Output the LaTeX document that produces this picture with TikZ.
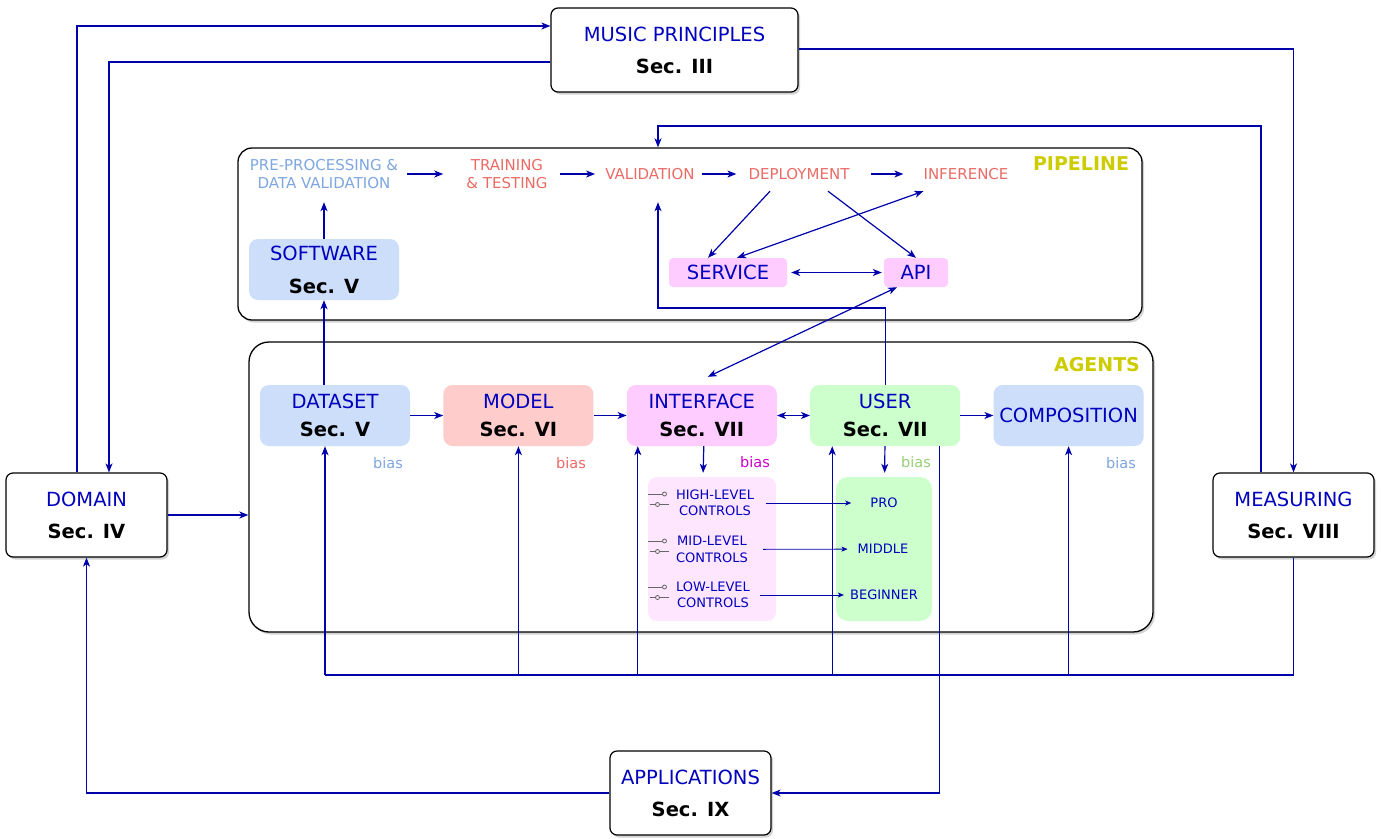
\documentclass[tikz,border=0pt]{standalone}
\usepackage{fontspec}
\setmainfont{DejaVu Sans}
\usepackage{xcolor}
\usetikzlibrary{positioning,arrows.meta,shadows,calc}

\definecolor{lnblue}{RGB}{0,0,170}
\definecolor{txblue}{RGB}{0,0,190}
\definecolor{fblue}{RGB}{204,222,250}
\definecolor{fred}{RGB}{255,204,204}
\definecolor{fpink}{RGB}{255,204,255}
\definecolor{fgreen}{RGB}{204,255,204}
\definecolor{fpinkl}{RGB}{255,230,255}
\definecolor{tblue}{RGB}{126,166,224}
\definecolor{tred}{RGB}{234,107,102}
\definecolor{tmag}{RGB}{204,0,204}
\definecolor{tgreen}{RGB}{151,208,119}
\definecolor{tyell}{RGB}{204,204,0}

\begin{document}
\begin{tikzpicture}[x=1pt, y=-1pt, node distance=33pt,
	sec/.style={draw=black, line width=1.2pt, rounded corners=7pt, fill=white, minimum width=161pt, minimum height=84pt, align=center, font=\fontsize{19.5}{32}\selectfont, drop shadow={shadow xshift=2pt, shadow yshift=-2.5pt, fill=black!35}},
	frame/.style={draw=black, line width=1.3pt, fill=white, drop shadow={shadow xshift=2pt, shadow yshift=-2.5pt, fill=black!35}},
	agent/.style={rounded corners=9pt, minimum width=150pt, minimum height=61pt, align=center, text=txblue, font=\fontsize{19.5}{28}\selectfont},
	stage/.style={inner sep=0pt, align=center, minimum height=34pt, font=\fontsize{15}{18}\selectfont},
	lvl/.style={inner sep=0pt, align=center, text=txblue, font=\fontsize{13}{16.5}\selectfont},
	bias/.style={font=\fontsize{14.5}{16}\selectfont},
	title/.style={font=\bfseries\fontsize{19}{22}\selectfont, text=tyell},
	ln/.style={draw=lnblue, line width=1.2pt},
	arr/.style={ln, -{Stealth[length=9pt, width=7pt, inset=2.5pt]}},
	darr/.style={ln, {Stealth[length=9pt, width=7pt, inset=2.5pt]}-{Stealth[length=9pt, width=7pt, inset=2.5pt]}},
	sarr/.style={draw=lnblue, line width=0.8pt, -{Stealth[length=6pt, width=5pt, inset=1.5pt]}},
	sw/.style={draw=black!60, line width=0.8pt}]
	\useasboundingbox (0,0) rectangle (1381,838);
	
	% sections around
	\node[sec, minimum width=247pt] (music) at (674.5,50) {{\color{txblue}MUSIC PRINCIPLES}\\\textbf{Sec. III}};
	\node[sec] (domain) at (86.5,515) {{\color{txblue}DOMAIN}\\\textbf{Sec. IV}};
	\node[sec] (meas) at (1293.5,515) {{\color{txblue}MEASURING}\\\textbf{Sec. VIII}};
	\node[sec] (apps) at (690.5,793) {{\color{txblue}APPLICATIONS}\\\textbf{Sec. IX}};
	
	% containers
	\node[frame, rounded corners=14pt, minimum width=904pt, minimum height=172pt] (pipe) at (690,234) {};
	\node[frame, rounded corners=20pt, minimum width=904pt, minimum height=290pt] (agents) at (701,487) {};
	\node[title] at (1081,164) {PIPELINE};
	\node[title] at (1097,365) {AGENTS};
	
	% pipeline
	\node[stage, text=tblue] (pre) at (324,174) {PRE-PROCESSING \&\\DATA VALIDATION};
	\node[stage, text=tred] (train) at (507,174) {TRAINING\\\& TESTING};
	\node[stage, text=tred] (val) at (650,174) {VALIDATION};
	\node[stage, text=tred] (dep) at (799,174) {DEPLOYMENT};
	\node[stage, text=tred] (inf) at (966,174) {INFERENCE};
	\node[agent, fill=fblue, font=\fontsize{19.5}{33}\selectfont] (soft) at (324,269.5) {SOFTWARE\\\textcolor{black}{\textbf{Sec. V}}};
	\node[agent, fill=fpink, minimum width=118pt, minimum height=29pt, rounded corners=4pt] (serv) at (728,272.5) {SERVICE};
	\node[agent, fill=fpink, minimum width=64pt, minimum height=29pt, rounded corners=4pt] (api) at (916,272.5) {API};
	
	% agents
	\node[agent, fill=fblue] (data) at (335,415.5) {DATASET\\\textcolor{black}{\textbf{Sec. V}}};
	\node[agent, fill=fred, right=of data] (model) {MODEL\\\textcolor{black}{\textbf{Sec. VI}}};
	\node[agent, fill=fpink, right=of model] (inter) {INTERFACE\\\textcolor{black}{\textbf{Sec. VII}}};
	\node[agent, fill=fgreen, right=of inter] (user) {USER\\\textcolor{black}{\textbf{Sec. VII}}};
	\node[agent, fill=fblue, right=of user] (comp) {COMPOSITION};
	
	\node[bias, text=tblue] at (388,463) {bias};
	\node[bias, text=tred] at (571,463) {bias};
	\node[bias, text=tmag] at (755,462) {bias};
	\node[bias, text=tgreen] at (916,462) {bias};
	\node[bias, text=tblue] at (1121,463) {bias};
	
	\node[fill=fpinkl, rounded corners=9pt, minimum width=128pt, minimum height=144pt] (ctrl) at (712,549) {};
	\node[fill=fgreen, rounded corners=12pt, minimum width=96pt, minimum height=144pt] (lvls) at (884,549) {};
	\node[lvl] (hi) at (715,503) {HIGH-LEVEL\\CONTROLS};
	\node[lvl] (mid) at (712,549.5) {MID-LEVEL\\CONTROLS};
	\node[lvl] (low) at (713,595) {LOW-LEVEL\\CONTROLS};
	\node[lvl] (pro) at (884,503) {PRO};
	\node[lvl] (midl) at (883,549) {MIDDLE};
	\node[lvl] (beg) at (884,595) {BEGINNER};
	\foreach \y in {494,541,587} {
		\draw[sw] (648,\y) -- (662,\y);
		\draw[sw] (664.5,\y) circle (2pt);
		\draw[sw] (650,\y+10.5) -- (655,\y+10.5);
		\draw[sw] (657.5,\y+10.5) circle (2pt);
		\draw[sw] (660,\y+10.5) -- (669,\y+10.5);
	}
	
	% pipeline connectors
	\draw[arr, shorten <=9pt, shorten >=23pt] (pre) -- (train);
	\draw[arr, shorten <=12pt, shorten >=10pt] (train) -- (val);
	\draw[arr, shorten <=7pt, shorten >=12pt] (val) -- (dep);
	\draw[arr, shorten <=21pt, shorten >=20pt] (dep) -- (inf);
	\draw[arr, shorten >=11pt] (soft) -- (pre);
	\draw[arr] ([xshift=-29pt]dep.south) -- ([xshift=-20pt]serv.north);
	\draw[arr] ([xshift=29pt]dep.south) -- (api.north);
	\draw[darr] (inf.south west) -- ([xshift=9pt]serv.north);
	\draw[darr, shorten <=4pt, shorten >=2pt] (serv) -- (api);
	\draw[darr] ([xshift=-19pt]api.south) -- ([xshift=6pt, yshift=8pt]inter.north);
	\coordinate (vb) at (658,308);
	\draw[arr, shorten >=11pt] (user.north) |- (vb) -- (vb |- val.south);
	
	% agent connectors
	\draw[arr] (soft.south |- data.north) -- (soft.south);
	\draw[arr] (data) -- (model);
	\draw[arr] (model) -- (inter);
	\draw[darr] (inter) -- (user);
	\draw[arr] (user) -- (comp);
	\draw[arr, shorten >=4pt] ([xshift=2pt]inter.south) -- ([xshift=-9pt]ctrl.north);
	\draw[arr, shorten >=4pt] (user) -- (lvls);
	\draw[sarr, shorten <=12pt, shorten >=19pt] (hi) -- (pro);
	\draw[sarr, shorten <=15pt, shorten >=10pt] (mid) -- (midl);
	\draw[sarr, shorten <=10pt, shorten >=6pt] (low) -- (beg);
	
	% outer loops
	\draw[arr] ([xshift=-9.5pt]domain.north) |- ([yshift=24pt]music.west);
	\draw[arr] ([yshift=-12pt]music.west) -| ([xshift=22.5pt]domain.north);
	\draw[arr] ([yshift=1pt]music.east) -| (meas.north);
	\coordinate (ptop) at (658,126);
	\draw[arr] ([xshift=-32.5pt]meas.north) |- (ptop) -- (ptop |- pipe.north);
	\draw[arr] (domain) -- (domain -| agents.west);
	\draw[arr] ([xshift=54pt]user.south) |- (apps.east);
	\draw[arr] (apps.west) -| (domain.south);
	
	% measuring bus
	\coordinate (bus) at (325,675);
	\draw[ln] (meas.south) |- (bus);
	\foreach \n/\dx in {data/-10,model/0,inter/-64,user/-53,comp/0}
		\draw[arr] ($(\n.south |- bus)+(\dx,0)$) -- ($(\n.south)+(\dx,0)$);
	
\end{tikzpicture}
\end{document}
